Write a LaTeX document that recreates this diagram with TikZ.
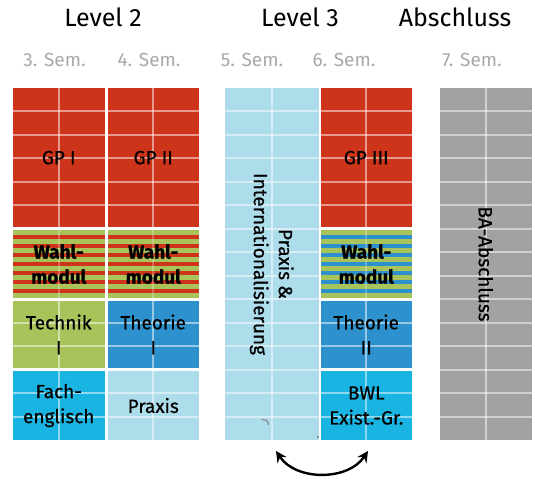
\documentclass[tikz,border=0pt]{standalone}
\usepackage{fontspec}
\setmainfont{Fira Sans}
\newfontfamily\cellfont{Fira Sans}[FakeBold=0.7]
\newfontfamily\wahlfont{Fira Sans Bold}[FakeBold=0.9]
\usetikzlibrary{arrows.meta}

\definecolor{gpred}{RGB}{205,52,25}
\definecolor{wgreen}{RGB}{168,195,90}
\definecolor{thblue}{RGB}{45,145,205}
\definecolor{fcyan}{RGB}{25,180,225}
\definecolor{plight}{RGB}{173,220,235}
\definecolor{bagray}{RGB}{162,162,162}
\definecolor{semgray}{RGB}{168,168,168}

\def\rowh{23.4667}

% filled module block with its inner brick grid and a centred label
% #1 name, #2 x left, #3 x right, #4 first row, #5 end row, #6 fill, #7 label options, #8 label
\newcommand\modblock[8]{%
  \pgfmathsetmacro\ya{88+#4*\rowh+ifthenelse(#4>0,1.5,0)}%
  \pgfmathsetmacro\yb{88+#5*\rowh-ifthenelse(#5<15,1.5,0)}%
  \pgfmathsetmacro\xm{(#2+#3)/2}%
  \fill[#6] (#2,\ya) rectangle (#3,\yb);
  \pgfmathtruncatemacro\ra{#4+1}%
  \pgfmathtruncatemacro\rb{#5-1}%
  \foreach \r in {\ra,...,\rb}{\draw[gridline] (#2,88+\r*\rowh) -- (#3,88+\r*\rowh);}
  \draw[gridline] (\xm,\ya) -- (\xm,\yb);
  \node[celltext,#7] (#1) at (\xm,{(\ya+\yb)/2}) {#8};
}

% striped elective block
% #1 name, #2 x left, #3 x right, #4 first row, #5 end row, #6 stripe colour
\newcommand\wahlblock[6]{%
  \pgfmathsetmacro\ya{88+#4*\rowh+1.5}%
  \pgfmathsetmacro\yb{88+#5*\rowh-1.5}%
  \pgfmathsetmacro\xm{(#2+#3)/2}%
  \pgfmathsetmacro\gs{(\yb-\ya-7*4)/8}%
  \fill[wgreen] (#2,\ya) rectangle (#3,\yb);
  \foreach \i in {0,...,6}{\fill[#6] (#2,{\ya+(\i+1)*\gs+\i*4}) rectangle (#3,{\ya+(\i+1)*\gs+\i*4+4});}
  \draw[gridline,opacity=0.25] (\xm,\ya) -- (\xm,\yb);
  \node[celltext,font=\fontsize{19}{25}\wahlfont] (#1) at (\xm,{(\ya+\yb)/2}) {Wahl-\\modul};
}

\begin{document}
\begin{tikzpicture}[x=1pt,y=-1pt,
  gridline/.style={white,opacity=0.5,line width=2pt},
  celltext/.style={align=center,inner sep=0pt,text=black,font=\fontsize{19}{25}\cellfont},
  levelhead/.style={anchor=base,text=black,font=\fontsize{25}{29}\selectfont},
  semhead/.style={anchor=base,text=semgray,font=\fontsize{19}{22}\selectfont},
  swaparrow/.style={{Stealth[length=11pt,width=11pt]}-{Stealth[length=11pt,width=11pt]},line width=2.4pt,black}]
\useasboundingbox (0,0) rectangle (535,481);

% headings
\node[levelhead] (lv2) at (103,27) {Level 2};
\node[levelhead] (lv3) at (300,27) {Level 3};
\node[levelhead] (abs) at (455,27) {Abschluss};

\node[semhead] (s3) at (54.5,67) {3. Sem.};
\node[semhead] (s4) at (149,67) {4. Sem.};
\node[semhead] (s5) at (252,67) {5. Sem.};
\node[semhead] (s6) at (344,67) {6. Sem.};
\node[semhead] (s7) at (472,67) {7. Sem.};

% 3rd semester
\modblock{gp1}{13}{104.5}{0}{6}{gpred}{}{GP I}
\wahlblock{wm3}{13}{104.5}{6}{9}{gpred}
\modblock{tech1}{13}{104.5}{9}{12}{wgreen}{}{Technik\\I}
\modblock{fach}{13}{104.5}{12}{15}{fcyan}{}{Fach-\\englisch}

% 4th semester
\modblock{gp2}{107.5}{199}{0}{6}{gpred}{}{GP II}
\wahlblock{wm4}{107.5}{199}{6}{9}{gpred}
\modblock{theo1}{107.5}{199}{9}{12}{thblue}{}{Theorie\\I}
\modblock{prax}{107.5}{199}{12}{15}{plight}{}{Praxis}

% 5th semester
\modblock{intl}{225}{318.5}{0}{15}{plight}{rotate=-90}{Praxis \&\\Internationalisierung}

% 6th semester
\modblock{gp3}{320.5}{412}{0}{6}{gpred}{}{GP III}
\wahlblock{wm6}{320.5}{412}{6}{9}{thblue}
\modblock{theo2}{320.5}{412}{9}{12}{thblue}{}{Theorie\\II}
\modblock{bwl}{320.5}{412}{12}{15}{fcyan}{}{BWL\\Exist.-Gr.}

% 7th semester
\modblock{ba}{439.5}{532}{0}{15}{bagray}{rotate=-90}{BA-Abschluss}

% small pencil marks
\draw[gray,line width=1pt,line cap=round] (262,419.5) -- (267,420.5) -- (268.5,424.5);
\fill[black!70] (318,437) circle (0.8);

% 5th and 6th semester are interchangeable
\coordinate (swapL) at (276,451);
\coordinate (swapR) at (368,451);
\draw[swaparrow] (swapL) .. controls (296,481) and (348,481) .. (swapR);
\end{tikzpicture}
\end{document}
